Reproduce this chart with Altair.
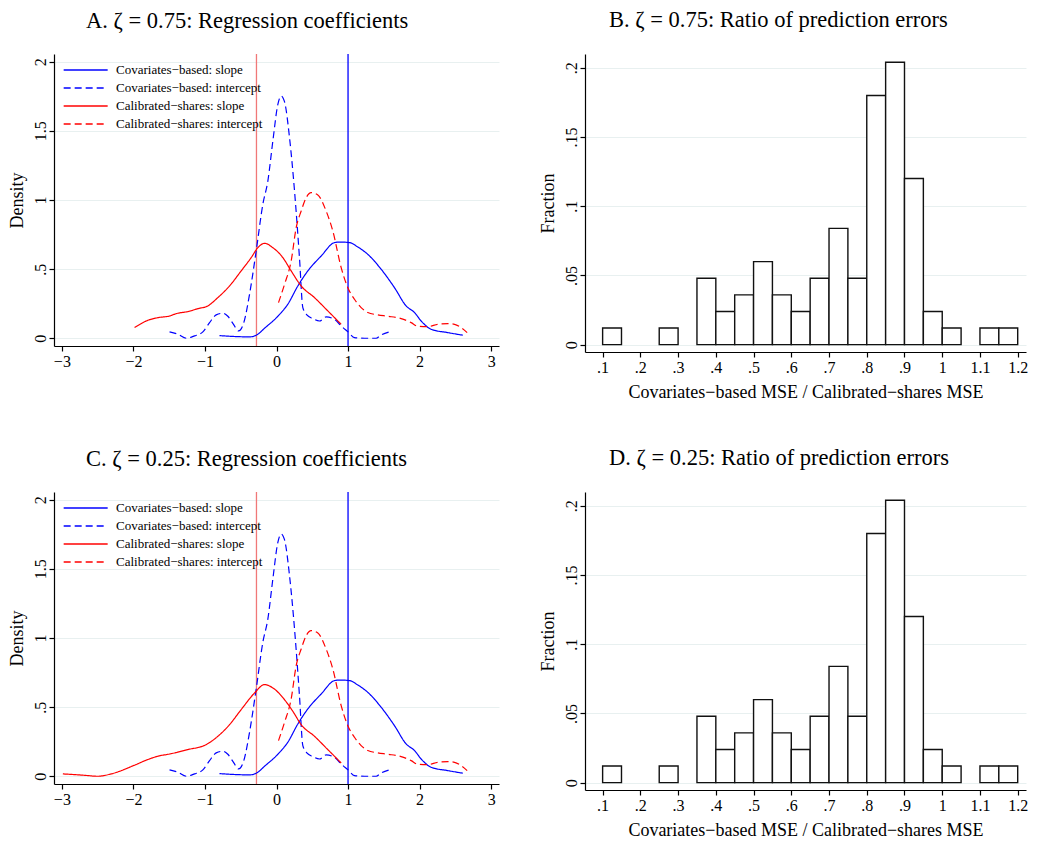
import altair as alt
import pandas as pd

SERIES = ["Covariates\u2212based: slope", "Covariates\u2212based: intercept",
          "Calibrated\u2212shares: slope", "Calibrated\u2212shares: intercept"]

# ---- kernel density curves ----
cov_slope_x = [-0.797, -0.377, -0.261, -0.168, 0.019, 0.158, 0.298, 0.438, 0.624, 0.811, 0.880, 1.020,
               1.137, 1.276, 1.463, 1.649, 1.812, 1.929, 2.022, 2.161, 2.394, 2.604]
cov_slope_y = [0.019, 0.010, 0.029, 0.072, 0.159, 0.246, 0.378, 0.487, 0.595, 0.692, 0.696, 0.692,
               0.660, 0.607, 0.499, 0.366, 0.234, 0.186, 0.125, 0.065, 0.041, 0.022]

cov_int_x = [-1.495, -1.379, -1.262, -1.146, -1.029, -0.936, -0.843, -0.750, -0.680, -0.601, -0.531,
             -0.457, -0.377, -0.284, -0.191, -0.121, -0.051, 0.019, 0.065, 0.112, 0.182, 0.252, 0.321,
             0.368, 0.424, 0.508, 0.601, 0.694, 0.811, 0.904, 1.000, 1.090, 1.230, 1.393, 1.463, 1.579]
cov_int_y = [0.046, 0.029, 0.0, 0.017, 0.046, 0.113, 0.169, 0.181, 0.159, 0.101, 0.053,
             0.113, 0.318, 0.631, 0.969, 1.137, 1.427, 1.692, 1.752, 1.711, 1.451, 1.065, 0.583,
             0.222, 0.169, 0.142, 0.125, 0.154, 0.137, 0.089, 0.046, 0.005, 0.0, 0.0, 0.024, 0.046]

cal_slope_a_x = [-1.984, -1.798, -1.658, -1.495, -1.402, -1.239, -1.099, -0.960, -0.820, -0.657, -0.494,
                 -0.354, -0.261, -0.168, -0.051, 0.089, 0.205, 0.345, 0.531, 0.717, 0.904]
cal_slope_a_y = [0.077, 0.130, 0.149, 0.161, 0.178, 0.193, 0.214, 0.234, 0.294, 0.378, 0.487,
                 0.583, 0.655, 0.687, 0.655, 0.583, 0.487, 0.378, 0.294, 0.198, 0.101]

cal_slope_c_x = [-2.986, -2.683, -2.497, -2.311, -1.984, -1.798, -1.658, -1.495, -1.239, -0.983, -0.820,
                 -0.657, -0.494, -0.307, -0.168, -0.051, 0.112, 0.228, 0.345, 0.531, 0.717, 0.904]
cal_slope_c_y = [0.017, 0.007, 0.0, 0.017, 0.080, 0.121, 0.145, 0.161, 0.193, 0.229, 0.289,
                 0.373, 0.482, 0.602, 0.663, 0.639, 0.554, 0.470, 0.373, 0.289, 0.193, 0.096]

cal_int_x = [0.028, 0.112, 0.205, 0.275, 0.345, 0.415, 0.484, 0.578, 0.694, 0.787, 0.904, 0.997,
             1.090, 1.183, 1.276, 1.416, 1.556, 1.742, 1.882, 1.975, 2.115, 2.255, 2.394, 2.488,
             2.581, 2.665]
cal_int_y = [0.258, 0.390, 0.559, 0.800, 0.920, 1.017, 1.053, 1.036, 0.920, 0.776, 0.511, 0.366,
             0.282, 0.222, 0.186, 0.169, 0.159, 0.142, 0.113, 0.087, 0.084, 0.101, 0.106, 0.101,
             0.077, 0.041]

# reference lines (true values): covariates-based slope, calibrated-shares slope
ref_x = [1.0, -0.28]
ref_color = ["#0000ff", "#f07878"]

# ---- histogram of MSE ratios (fraction per 0.05 bin) ----
bin_start = [0.10, 0.25, 0.35, 0.40, 0.45, 0.50, 0.55, 0.60, 0.65, 0.70, 0.75, 0.80, 0.85, 0.90,
             0.95, 1.00, 1.10, 1.15]
fraction = [0.012, 0.012, 0.048, 0.024, 0.036, 0.060, 0.036, 0.024, 0.048, 0.084, 0.048, 0.180,
            0.204, 0.120, 0.024, 0.012, 0.012, 0.012]
BIN_W = 0.05

FONT = "Liberation Serif"
LBL_EXPR = ("datum.value == 0 ? '0' : (abs(datum.value) < 1 ? "
            "replace(format(datum.value, ''), '0.', '.') : format(datum.value, ''))")


def curve_df(cal_x, cal_y):
    rows = []
    for s, xs, ys in [(SERIES[0], cov_slope_x, cov_slope_y), (SERIES[1], cov_int_x, cov_int_y),
                      (SERIES[2], cal_x, cal_y), (SERIES[3], cal_int_x, cal_int_y)]:
        for i, (a, b) in enumerate(zip(xs, ys)):
            rows.append({"series": s, "x": a, "y": b, "i": i})
    return pd.DataFrame(rows)


def make_legend():
    return alt.Legend(title=None, orient="none", legendX=9, legendY=8,
                      symbolType="M-1,0H5", symbolSize=215, symbolStrokeWidth=1.3,
                      labelFont=FONT, labelFontSize=13, labelColor="black",
                      labelOffset=37, rowPadding=3, padding=0)


def density_panel(title, cal_x, cal_y):
    df = curve_df(cal_x, cal_y)
    xs = alt.Scale(domain=[-3.11, 3.11], nice=False, zero=False)
    ys = alt.Scale(domain=[-0.056, 2.056], nice=False, zero=False)
    lines = alt.Chart(df).mark_line(strokeWidth=1.2, interpolate="monotone", clip=True).encode(
        x=alt.X("x:Q", scale=xs, title=None,
                axis=alt.Axis(values=[-3, -2, -1, 0, 1, 2, 3], labelExpr=LBL_EXPR, grid=False,
                              labelPadding=2)),
        y=alt.Y("y:Q", scale=ys, title="Density",
                axis=alt.Axis(values=[0, 0.5, 1, 1.5, 2], labelExpr=LBL_EXPR, labelAngle=270,
                              labelAlign="center", labelBaseline="bottom", labelPadding=1,
                              titlePadding=6)),
        color=alt.Color("series:N", scale=alt.Scale(domain=SERIES,
                        range=["#0000ff", "#0000ff", "#ff0000", "#ff0000"]),
                        legend=make_legend()),
        strokeDash=alt.StrokeDash("series:N", scale=alt.Scale(domain=SERIES,
                                  range=[[1, 0], [7, 4], [1, 0], [7, 4]]), legend=make_legend()),
        order="i:Q",
    )
    rule_layers = []
    for xv, col in zip(ref_x, ref_color):
        rule_layers.append(
            alt.Chart(pd.DataFrame({"x": [xv]})).mark_rule(strokeWidth=1.3, color=col).encode(
                x=alt.X("x:Q", scale=xs)))
    return alt.layer(*rule_layers, lines).properties(
        width=445, height=292,
        title=alt.TitleParams(title, anchor="start", frame="group", dx=32, offset=3,
                              baseline="alphabetic", font=FONT, fontSize=22.5, fontWeight="normal"))


def hist_panel(title):
    hdf = pd.DataFrame({"start": bin_start, "frac": fraction})
    hdf["end"] = hdf["start"] + BIN_W
    return alt.Chart(hdf).mark_bar(fill="white", stroke="#111111", strokeWidth=1.4).encode(
        x=alt.X("start:Q", scale=alt.Scale(domain=[0.0533, 1.222], nice=False, zero=False),
                title="Covariates\u2212based MSE / Calibrated\u2212shares MSE",
                axis=alt.Axis(values=[0.1, 0.2, 0.3, 0.4, 0.5, 0.6, 0.7, 0.8, 0.9, 1.0, 1.1, 1.2],
                              labelExpr=LBL_EXPR, grid=False, labelPadding=2, titlePadding=8)),
        x2="end:Q",
        y=alt.Y("frac:Q", scale=alt.Scale(domain=[-0.0053, 0.210], nice=False, zero=False),
                title="Fraction",
                axis=alt.Axis(values=[0, 0.05, 0.1, 0.15, 0.2], labelExpr=LBL_EXPR, labelAngle=270,
                              labelAlign="center", labelBaseline="bottom", labelPadding=1,
                              titlePadding=6)),
        y2=alt.datum(0),
    ).properties(
        width=441, height=298,
        title=alt.TitleParams(title, anchor="start", frame="group", dx=24, offset=5,
                              baseline="alphabetic", font=FONT, fontSize=22.5, fontWeight="normal"))


A = density_panel("A. \u03b6 = 0.75: Regression coefficients", cal_slope_a_x, cal_slope_a_y)
B = hist_panel("B. \u03b6 = 0.75: Ratio of prediction errors")
C = density_panel("C. \u03b6 = 0.25: Regression coefficients", cal_slope_c_x, cal_slope_c_y)
D = hist_panel("D. \u03b6 = 0.25: Ratio of prediction errors")

row1 = alt.hconcat(A, B, spacing=40).resolve_scale(
    color="independent", strokeDash="independent").resolve_legend(
    color="independent", strokeDash="independent")
row2 = alt.hconcat(C, D, spacing=40).resolve_scale(
    color="independent", strokeDash="independent").resolve_legend(
    color="independent", strokeDash="independent")

chart = alt.vconcat(row1, row2, spacing=45).resolve_scale(
    color="independent", strokeDash="independent").resolve_legend(
    color="independent", strokeDash="independent").properties(
    padding=0).configure_view(stroke=None).configure_axis(
    labelFont=FONT, labelFontSize=16, labelColor="black",
    titleFont=FONT, titleFontSize=18, titleFontWeight="normal", titleColor="black",
    domainColor="black", domainWidth=1.2, tickColor="black", tickWidth=1.2, tickSize=5,
    gridColor="#e8f0f0", gridWidth=1,
)

chart.save("out.html", embed_options={"renderer": "svg", "actions": False})
